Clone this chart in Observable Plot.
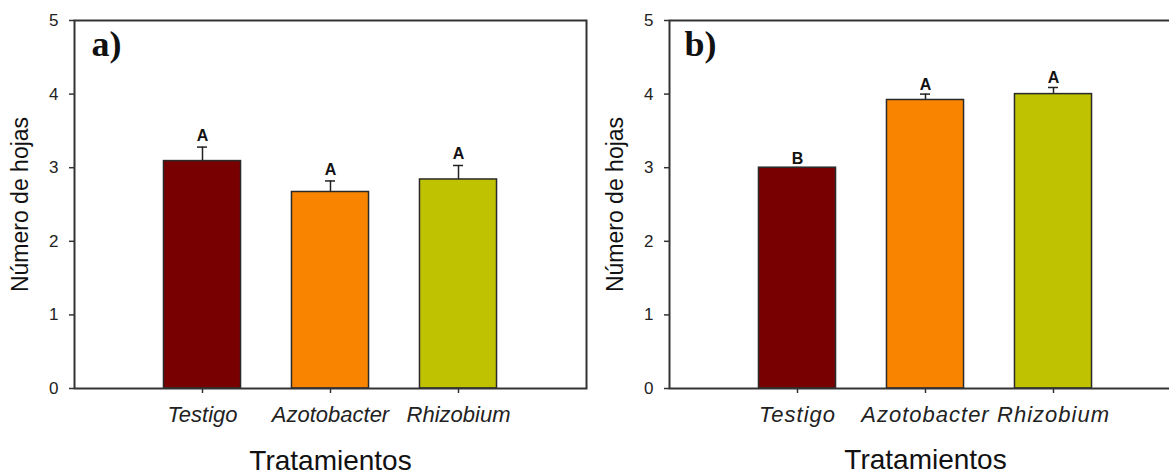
<!DOCTYPE html>
<html>
<head>
<meta charset="utf-8">
<script src="https://cdn.jsdelivr.net/npm/d3@7"></script>
<script src="https://cdn.jsdelivr.net/npm/@observablehq/plot@0.6"></script>
<style>
  html, body { margin: 0; padding: 0; background: #fff; }
  #wrap { position: relative; width: 1169px; height: 476px; overflow: hidden; background: #fff; }
  #wrap svg { position: absolute; top: 0; overflow: visible; }
  #pb [aria-label="x-axis tick label"] text { letter-spacing: 1px; }
</style>
</head>
<body>
<div id="wrap"></div>
<script>
const categories = ["Testigo", "Azotobacter", "Rhizobium"];
const palette = ["#790000", "#F98400", "#BFC200"];
const yTicks = [0, 1, 2, 3, 4, 5];

const meansA = [3.09, 2.67, 2.84];
const errA   = [0.19, 0.15, 0.19];
const lettersA = ["A", "A", "A"];

const meansB = [3.0, 3.92, 4.0];
const errB   = [0.0, 0.08, 0.09];
const lettersB = ["B", "A", "A"];

const panelTags = ["a)", "b)"];
const xTitle = "Tratamientos";
const yTitle = "Número de hojas";

const sans = "'Liberation Sans', Arial, sans-serif";

function panel(means, errs, letters, tag, opts) {
  const data = categories.map((c, i) => ({cat: c, mean: means[i], err: errs[i], top: means[i] + errs[i], letter: letters[i]}));
  return Plot.plot({
    width: 600,
    height: 476,
    marginLeft: 74,
    marginRight: 14,
    marginTop: 20,
    marginBottom: 88,
    style: {fontFamily: sans, color: "#222", background: "transparent"},
    x: {domain: categories, paddingInner: 0.398, paddingOuter: 0.699, round: false, label: null},
    y: {domain: [0, 5], label: null},
    color: {domain: categories, range: palette},
    marks: [
      Plot.ruleX(data, {x: "cat", y1: "mean", y2: "top", stroke: "#222", strokeWidth: 1.5}),
      Plot.tickY(data, {x: "cat", y: "top", stroke: "#222", strokeWidth: 1.5, insetLeft: 33.5, insetRight: 33.5}),
      Plot.barY(data, {x: "cat", y: "mean", fill: "cat", stroke: "#2a2a2a", strokeWidth: 1.5}),
      Plot.text(data, {x: "cat", y: "top", text: "letter", lineAnchor: "bottom", dy: opts.letterDy, fontSize: 16, fontWeight: "bold", fill: "#111"}),
      Plot.frame({stroke: "#333", strokeWidth: 2}),
      Plot.axisY({ticks: yTicks, tickSize: 5, tickPadding: 11, fontSize: 17, tickFormat: d3.format("d"), stroke: "#333", strokeWidth: 1.5, label: null}),
      Plot.axisX({tickSize: 5, tickPadding: 13, fontSize: 22, fontStyle: "italic", stroke: "#333", strokeWidth: 1.5, label: null}),
      Plot.text([xTitle], {frameAnchor: "bottom", lineAnchor: "bottom", dy: opts.xTitleDy, fontSize: 28, fill: "#111"}),
      Plot.text([yTitle], {frameAnchor: "left", textAnchor: "middle", lineAnchor: "middle", rotate: -90, dx: -54, fontSize: 23, fill: "#111"}),
      Plot.text([tag], {frameAnchor: "top-left", textAnchor: "start", lineAnchor: "bottom", dx: opts.tagDx, dy: 35, fontSize: 36, fontWeight: "bold", fontFamily: "'Liberation Serif', 'Times New Roman', serif", fill: "#111"})
    ]
  });
}

const wrap = document.getElementById("wrap");
const a = panel(meansA, errA, lettersA, panelTags[0], {letterDy: -6, xTitleDy: 81, tagDx: 17});
a.style.left = "0px";
a.id = "pa";
wrap.appendChild(a);
const b = panel(meansB, errB, lettersB, panelTags[1], {letterDy: -4, xTitleDy: 80, tagDx: 15});
b.style.left = "595px";
b.id = "pb";
wrap.appendChild(b);
</script>
</body>
</html>
